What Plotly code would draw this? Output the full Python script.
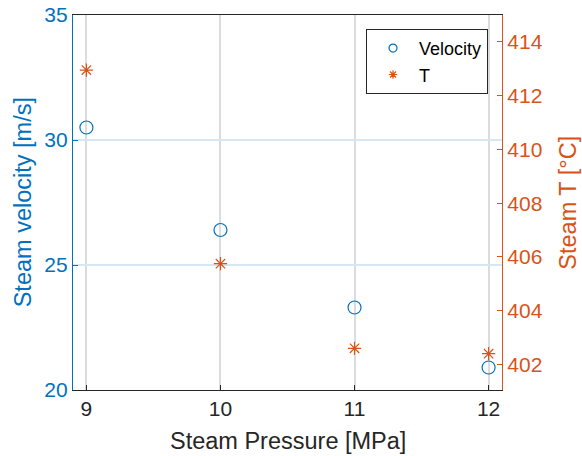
import plotly.graph_objects as go

pressure = [9, 10, 11, 12]
velocity = [30.5, 26.4, 23.3, 20.9]
temperature = [412.95, 405.75, 402.6, 402.4]

blue = "#0072BD"
orange = "#D95319"
font = "Liberation Sans, Arial, sans-serif"

fig = go.Figure()
fig.add_trace(go.Scatter(x=pressure, y=velocity, mode="markers", name="Velocity",
                         marker=dict(symbol="circle-open", size=13, color=blue, line=dict(width=1.2)),
                         yaxis="y", showlegend=False))
fig.add_trace(go.Scatter(x=pressure, y=temperature, mode="markers", name="T",
                         marker=dict(symbol="asterisk-open", size=11, color=orange, line=dict(width=1.2)),
                         yaxis="y2", showlegend=False))
# legend-only entries with smaller symbols, like the reference legend
fig.add_trace(go.Scatter(x=[None], y=[None], mode="markers", name="Velocity",
                         marker=dict(symbol="circle-open", size=8, color=blue, line=dict(width=1.2)),
                         yaxis="y"))
fig.add_trace(go.Scatter(x=[None], y=[None], mode="markers", name="T",
                         marker=dict(symbol="asterisk-open", size=7, color=orange, line=dict(width=1.2)),
                         yaxis="y2"))

fig.update_layout(
    width=582, height=456,
    margin=dict(l=73, r=80, t=15, b=66, autoexpand=False),
    paper_bgcolor="white", plot_bgcolor="white",
    font=dict(family=font, size=21, color="#262626"),
    showlegend=True,
    legend=dict(x=0.683, y=0.963, xanchor="left", yanchor="top",
                bgcolor="white", bordercolor="#262626", borderwidth=1,
                font=dict(size=18, color="#000000"), tracegroupgap=0,
                itemwidth=42),
    xaxis=dict(range=[8.9, 12.1], tickvals=[9, 10, 11, 12], ticks="inside", ticklen=5,
               tickcolor="#262626", showline=True, linecolor="#262626", linewidth=1,
               mirror=True, showgrid=True, gridcolor="#DCDCDC", gridwidth=1.5,
               zeroline=False, automargin=False, tickfont=dict(size=21, color="#262626")),
    yaxis=dict(range=[20, 35], tickvals=[20, 25, 30, 35], ticks="inside", ticklen=5,
               tickcolor=blue, showline=True, linecolor=blue, linewidth=1.2,
               showgrid=True, gridcolor="#D6E6F2", gridwidth=1.5, zeroline=False,
               automargin=False, tickfont=dict(size=21, color=blue)),
    yaxis2=dict(range=[401.05, 415], tickvals=[402, 404, 406, 408, 410, 412, 414],
                overlaying="y", side="right", ticks="inside", ticklen=5,
                tickcolor=orange, showline=True, linecolor=orange, linewidth=1.2,
                showgrid=False, zeroline=False, automargin=False,
                tickfont=dict(size=21, color=orange)),
    annotations=[
        dict(text="Steam Pressure [MPa]", xref="paper", yref="paper", x=0.5, y=-0.137,
             xanchor="center", yanchor="middle", showarrow=False,
             font=dict(size=23.5, color="#262626")),
        dict(text="Steam velocity [m/s]", xref="paper", yref="paper", x=-0.117, y=0.5,
             xanchor="center", yanchor="middle", showarrow=False, textangle=-90,
             font=dict(size=23.5, color=blue)),
        dict(text="Steam T [°C]", xref="paper", yref="paper", x=1.152, y=0.5,
             xanchor="center", yanchor="middle", showarrow=False, textangle=-90,
             font=dict(size=23.5, color=orange)),
    ],
)

fig.write_html("out.html")
